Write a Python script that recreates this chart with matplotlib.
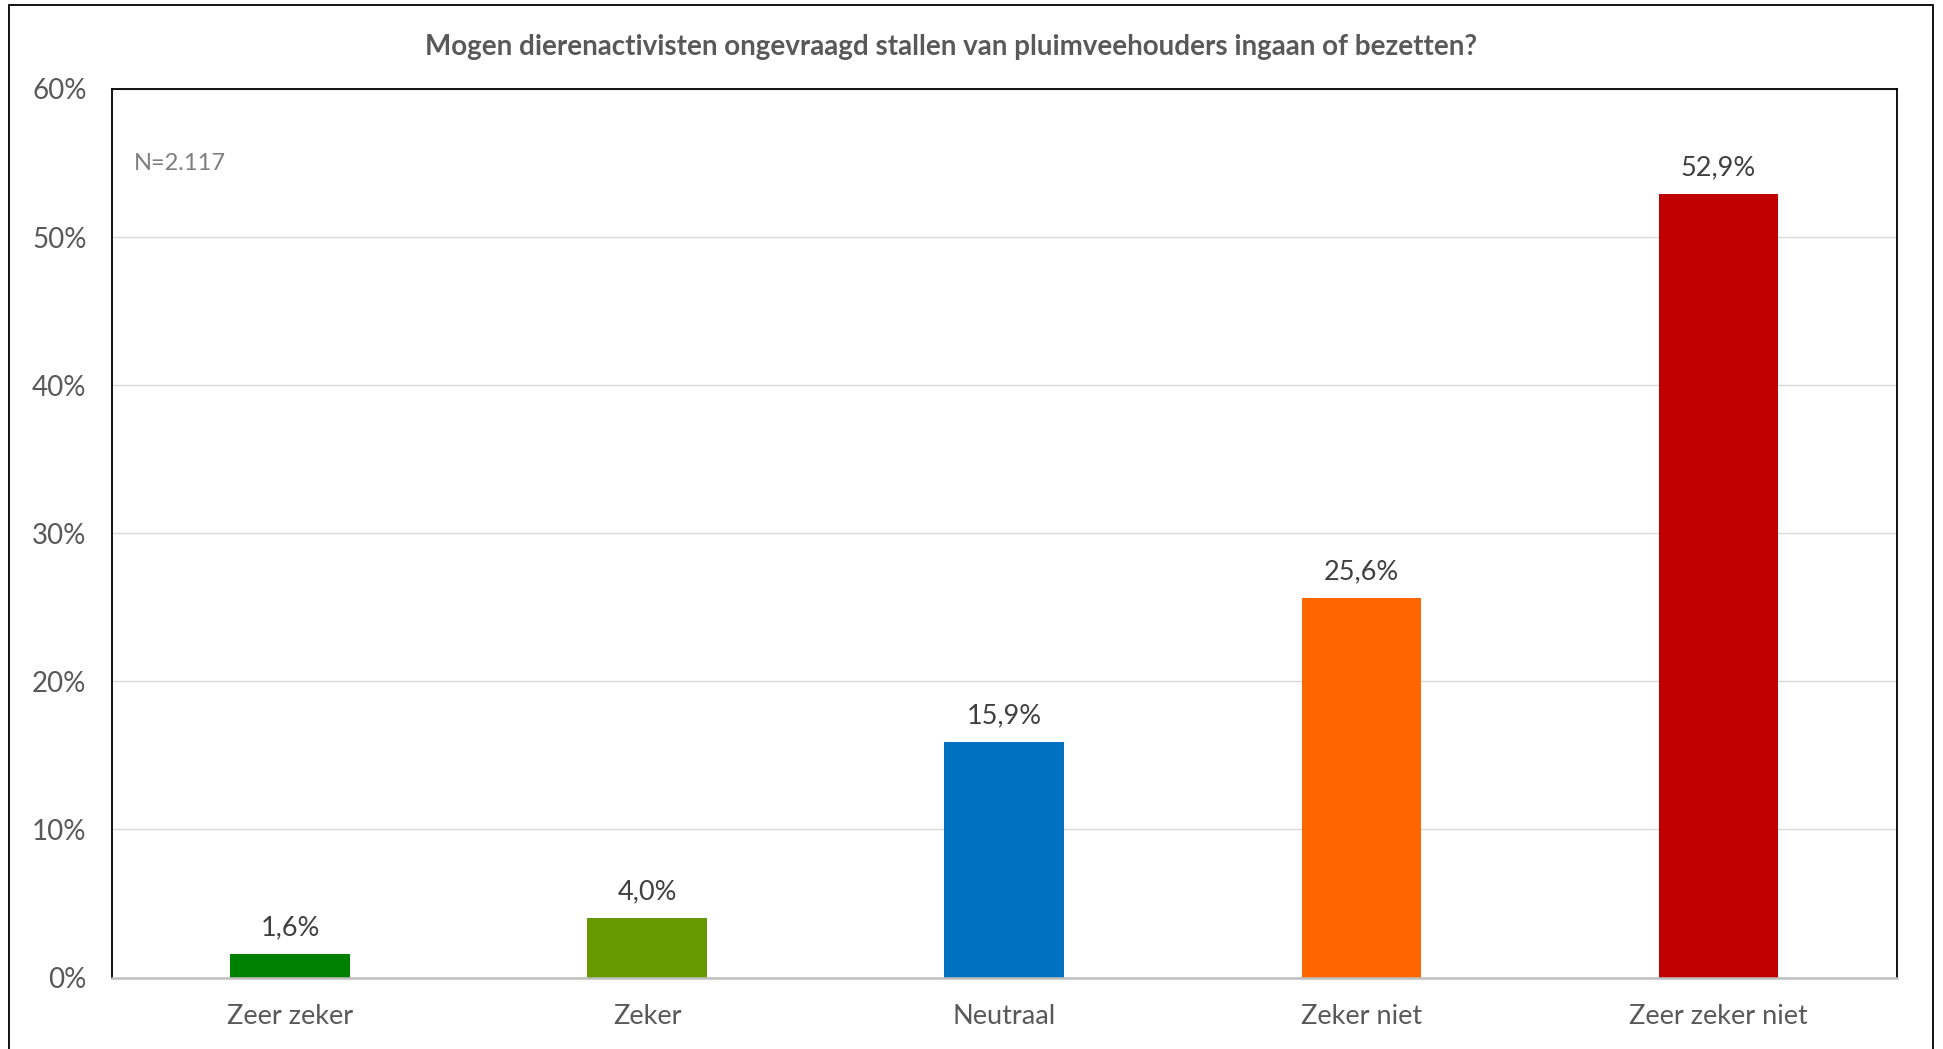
"""Bar chart: Mogen dierenactivisten ongevraagd stallen van pluimveehouders ingaan of bezetten?"""

import matplotlib
matplotlib.use("Agg")

import matplotlib.pyplot as plt
from matplotlib.patches import Rectangle

CATEGORIES = ["Zeer zeker", "Zeker", "Neutraal", "Zeker niet", "Zeer zeker niet"]
VALUES = [1.6, 4.0, 15.9, 25.6, 52.9]
BAR_COLORS = ["#008000", "#669900", "#0070C0", "#FF6600", "#C00000"]
Y_TICKS = [0, 10, 20, 30, 40, 50, 60]
TITLE = "Mogen dierenactivisten ongevraagd stallen van pluimveehouders ingaan of bezetten?"
N_LABEL = "N=2.117"

TEXT = "#595959"
LABEL = "#404040"

plt.rcParams.update({
    "font.family": ["Lato", "DejaVu Sans"],
    "font.size": 19.5,
})

fig = plt.figure(figsize=(19.43, 10.49), dpi=100)
ax = fig.add_axes([0.0574, 0.0681, 0.9189, 0.8471])

x = list(range(len(CATEGORIES)))
bars = ax.bar(x, VALUES, width=0.335, color=BAR_COLORS, zorder=3)

for bar, val in zip(bars, VALUES):
    ax.annotate(f"{val:.1f}".replace(".", ",") + "%",
                (bar.get_x() + bar.get_width() / 2, bar.get_height()),
                xytext=(0, 10), textcoords="offset points",
                ha="center", va="bottom", fontsize=19.5, color=LABEL)

ax.set_xlim(-0.5, len(CATEGORIES) - 0.5)
ax.set_ylim(0, 60)
ax.set_yticks(Y_TICKS)
ax.set_yticklabels([f"{t}%" for t in Y_TICKS])
ax.set_xticks(x)
ax.set_xticklabels(CATEGORIES)
ax.tick_params(axis="y", length=0, colors=TEXT, labelsize=20, pad=18)
ax.tick_params(axis="x", length=0, colors=TEXT, labelsize=19.5, pad=19)

ax.grid(True, axis="y", color="#d9d9d9", linewidth=1.0, zorder=0)
for side in ("left", "top", "right"):
    ax.spines[side].set_color("black")
    ax.spines[side].set_linewidth(1.3)
ax.spines["bottom"].set_color("#bfbfbf")
ax.spines["bottom"].set_linewidth(1.8)
ax.spines["bottom"].set_zorder(4)

ax.text(0.0125, 0.916, N_LABEL, transform=ax.transAxes, fontsize=17,
        color="#7f7f7f", ha="left", va="center")

fig.text(0.4895, 0.955, TITLE, ha="center", va="center",
         fontsize=20, fontweight="bold", color=TEXT)

# outer frame around the chart (bottom edge runs off the image)
fig.patches.append(Rectangle((0.0045, -0.02), 0.9903, 1.0152,
                             transform=fig.transFigure, fill=False,
                             edgecolor="black", linewidth=1.3))

fig.savefig("out.png", dpi=100)
